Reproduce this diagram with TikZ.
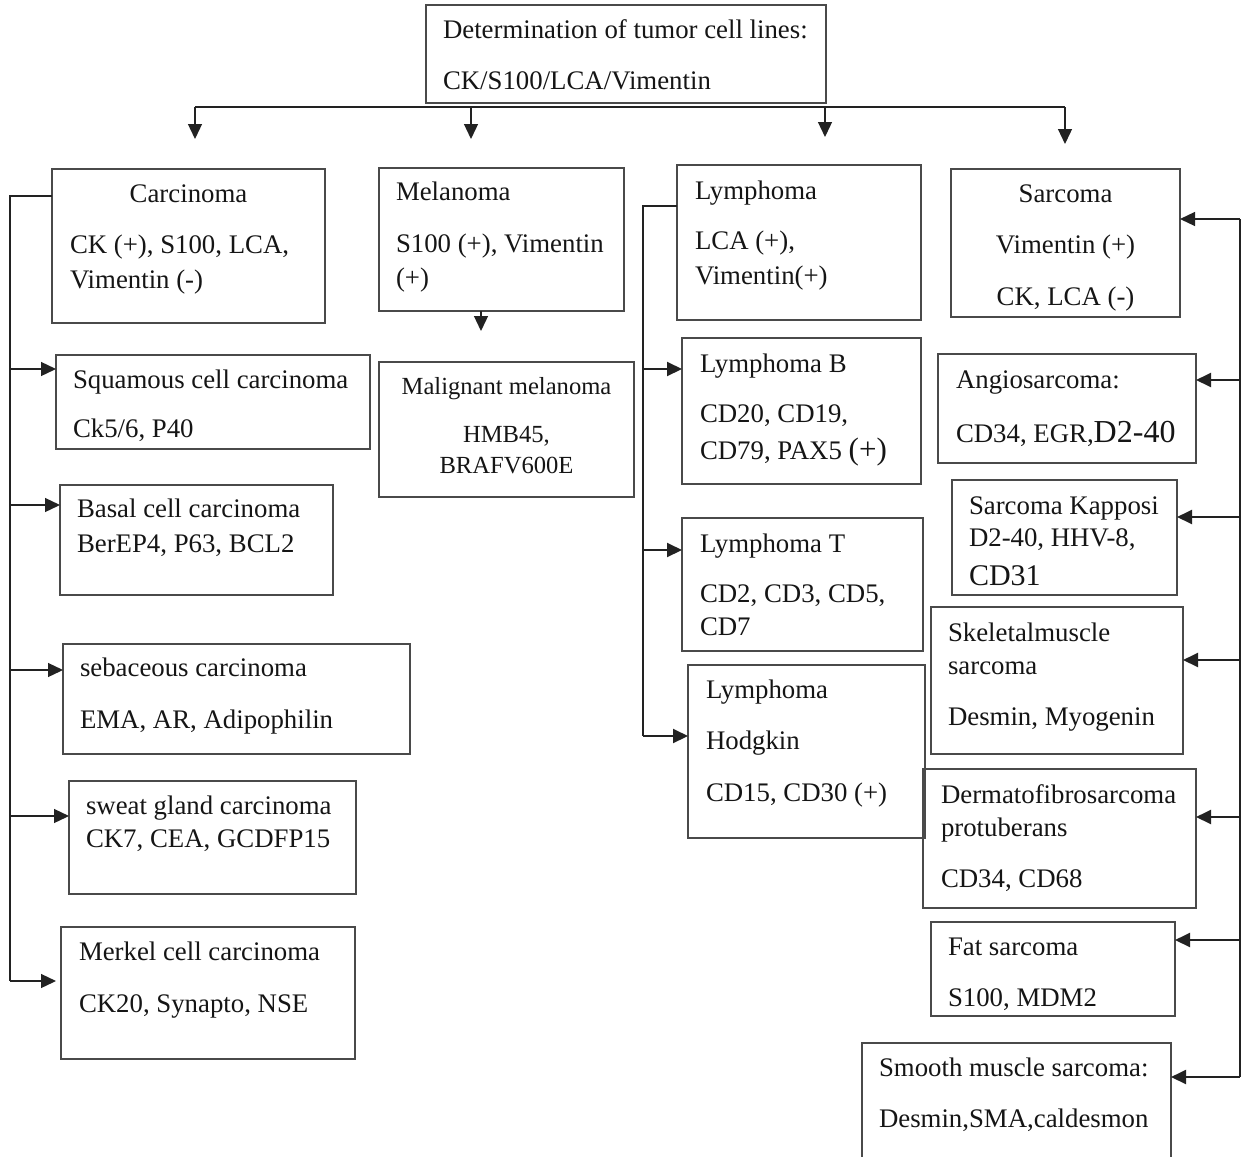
\documentclass[tikz,border=0pt]{standalone}
\usepackage{fontspec}
\setmainfont{Liberation Serif}
\usetikzlibrary{arrows.meta}
\definecolor{boxgray}{HTML}{4A4A4A}
\definecolor{linegray}{HTML}{222222}
\definecolor{textblack}{HTML}{151515}
\newcommand\mainfs{\fontsize{26.8}{32}\selectfont}
\newcommand\smallfs{\fontsize{24.6}{30}\selectfont}
\begin{document}
\begin{tikzpicture}[x=1pt,y=-1pt,
  box/.style={draw=boxgray, line width=1.3pt, inner sep=0pt, outer sep=0pt, anchor=north west},
  txt/.style={inner sep=0pt, outer sep=0pt, anchor=base west, font=\mainfs, text=textblack},
  ctxt/.style={txt, anchor=base},
  bus/.style={draw=linegray, line width=1.3pt},
  busb/.style={draw=linegray, line width=2pt},
  arr/.style={bus, -{Triangle[width=14pt,length=15pt]}},
  arrb/.style={busb, -{Triangle[width=14pt,length=15pt]}}]
\useasboundingbox (0,0) rectangle (1246,1156);
\fill[white] (0,0) rectangle (1246,1156);

% ---------- top ----------
\node[box, minimum width=400pt, minimum height=98pt] (top) at (426,5) {};
\node[txt] (top1) at (443,38) {Determination of tumor cell lines:};
\node[txt] (top2) at (443,89) {CK/S100/LCA/Vimentin};

\coordinate (h1) at (195,107);
\coordinate (h2) at (471,107);
\coordinate (h3) at (825,107);
\coordinate (h4) at (1065,107);
\coordinate (d1) at (195,139);
\coordinate (d2) at (471,139);
\coordinate (d3) at (825,137);
\coordinate (d4) at (1065,144);
\draw[bus] (h1) -- (h4);
\draw[arr] (h1) -- (d1);
\draw[arr] (h2) -- (d2);
\draw[arr] (h3) -- (d3);
\draw[arr] (h4) -- (d4);

% ---------- carcinoma column ----------
\node[box, minimum width=273pt, minimum height=154pt] (carc) at (52,169) {};
\node[ctxt] (carc1) at (188.5,202) {Carcinoma};
\node[txt] (carc2) at (70,253) {CK (+), S100, LCA,};
\node[txt] (carc3) at (70,288) {Vimentin (-)};

\node[box, minimum width=314pt, minimum height=94pt] (squam) at (56,355) {};
\node[txt] (squam1) at (73,388) {Squamous cell carcinoma};
\node[txt] (squam2) at (73,437) {Ck5/6, P40};

\node[box, minimum width=273pt, minimum height=110pt] (basal) at (60,485) {};
\node[txt] (basal1) at (77,517) {Basal cell carcinoma};
\node[txt] (basal2) at (77,552) {BerEP4, P63, BCL2};

\node[box, minimum width=347pt, minimum height=110pt] (seb) at (63,644) {};
\node[txt] (seb1) at (80,676) {sebaceous carcinoma};
\node[txt] (seb2) at (80,728) {EMA, AR, Adipophilin};

\node[box, minimum width=287pt, minimum height=113pt] (sweat) at (69,781) {};
\node[txt] (sweat1) at (86,814) {sweat gland carcinoma};
\node[txt] (sweat2) at (86,847) {CK7, CEA, GCDFP15};

\node[box, minimum width=294pt, minimum height=132pt] (merk) at (61,927) {};
\node[txt] (merk1) at (79,960) {Merkel cell carcinoma};
\node[txt] (merk2) at (79,1012) {CK20, Synapto, NSE};

\coordinate (L0) at (10,196);
\coordinate (L1) at (10,369);
\coordinate (L2) at (10,505);
\coordinate (L3) at (10,670);
\coordinate (L4) at (10,816);
\coordinate (L5) at (10,981);
\draw[bus] ([yshift=-27pt]carc.north west) -- (L0) -- (L5);
\draw[arr] (L1) -- (L1 -| squam.west);
\draw[arr] (L2) -- (L2 -| basal.west);
\draw[arr] (L3) -- (L3 -| seb.west);
\draw[arr] (L4) -- (L4 -| sweat.west);
\draw[arr] (L5) -- ([xshift=-5pt]L5 -| merk.west);

% ---------- melanoma ----------
\node[box, minimum width=245pt, minimum height=143pt] (mel) at (379,168) {};
\node[txt] (mel1) at (396,200) {Melanoma};
\node[txt] (mel2) at (396,252) {S100 (+), Vimentin};
\node[txt] (mel3) at (396,286) {(+)};

\node[box, minimum width=255pt, minimum height=135pt] (mal) at (379,362) {};
\node[ctxt, font=\smallfs] (mal1) at (506.5,394) {Malignant melanoma};
\node[ctxt, font=\smallfs] (mal2) at (506.5,442) {HMB45,};
\node[ctxt, font=\smallfs] (mal3) at (506.5,473) {BRAFV600E};

\coordinate (m2) at (481,331);
\draw[arr] ([xshift=-20.5pt]mel.south) -- (m2);

% ---------- lymphoma ----------
\node[box, minimum width=244pt, minimum height=155pt] (lym) at (677,165) {};
\node[txt] (lym1) at (695,199) {Lymphoma};
\node[txt] (lym2) at (695,249) {LCA (+),};
\node[txt] (lym3) at (695,284) {Vimentin(+)};

\node[box, minimum width=239pt, minimum height=146pt] (lymb) at (682,338) {};
\node[txt] (lymb1) at (700,372) {Lymphoma B};
\node[txt] (lymb2) at (700,422) {CD20, CD19,};
\node[txt] (lymb3) at (700,459) {CD79, PAX5 {\fontsize{31}{34}\selectfont(+)}};

\node[box, minimum width=241pt, minimum height=133pt] (lymt) at (682,518) {};
\node[txt] (lymt1) at (700,552) {Lymphoma T};
\node[txt] (lymt2) at (700,602) {CD2, CD3, CD5,};
\node[txt] (lymt3) at (700,635) {CD7};

\node[box, minimum width=237pt, minimum height=173pt] (hodg) at (688,665) {};
\node[txt] (hodg1) at (706,698) {Lymphoma};
\node[txt] (hodg2) at (706,749) {Hodgkin};
\node[txt] (hodg3) at (706,801) {CD15, CD30 (+)};

\coordinate (Y0) at (643,206);
\coordinate (Y1) at (643,369);
\coordinate (Y2) at (643,550);
\coordinate (Y3) at (643,736);
\draw[busb] ([yshift=-41pt]lym.north west) -- (Y0) -- (Y3);
\draw[arrb] (Y1) -- (Y1 -| lymb.west);
\draw[arrb] (Y2) -- (Y2 -| lymt.west);
\draw[arrb] (Y3) -- (Y3 -| hodg.west);

% ---------- sarcoma ----------
\node[box, minimum width=229pt, minimum height=148pt] (sarc) at (951,169) {};
\node[ctxt] (sarc1) at (1065.5,202) {Sarcoma};
\node[ctxt] (sarc2) at (1065.5,253) {Vimentin (+)};
\node[ctxt] (sarc3) at (1065.5,305) {CK, LCA (-)};

\node[box, minimum width=258pt, minimum height=109pt] (angio) at (938,354) {};
\node[txt] (angio1) at (956,388) {Angiosarcoma:};
\node[txt] (angio2) at (956,442) {CD34, EGR,{\fontsize{32}{34}\selectfont D2-40}};

\node[box, minimum width=225pt, minimum height=115pt] (kap) at (952,480) {};
\node[txt] (kap1) at (969,514) {Sarcoma Kapposi};
\node[txt] (kap2) at (969,546) {D2-40, HHV-8,};
\node[txt, font=\fontsize{30}{32}\selectfont] (kap3) at (969,585) {CD31};

\node[box, minimum width=252pt, minimum height=147pt] (skel) at (931,607) {};
\node[txt] (skel1) at (948,641) {Skeletalmuscle};
\node[txt] (skel2) at (948,674) {sarcoma};
\node[txt] (skel3) at (948,725) {Desmin, Myogenin};

\node[box, minimum width=273pt, minimum height=139pt] (derm) at (923,769) {};
\node[txt] (derm1) at (941,803) {Dermatofibrosarcoma};
\node[txt] (derm2) at (941,836) {protuberans};
\node[txt] (derm3) at (941,887) {CD34, CD68};

\node[box, minimum width=244pt, minimum height=94pt] (fat) at (931,922) {};
\node[txt] (fat1) at (948,955) {Fat sarcoma};
\node[txt] (fat2) at (948,1006) {S100, MDM2};

\node[box, minimum width=309pt, minimum height=120pt] (smooth) at (862,1043) {};
\node[txt] (smooth1) at (879,1076) {Smooth muscle sarcoma:};
\node[txt] (smooth2) at (879,1127) {Desmin,SMA,caldesmon};

\coordinate (R0) at (1240,219);
\coordinate (R1) at (1240,380);
\coordinate (R2) at (1240,517);
\coordinate (R3) at (1240,660);
\coordinate (R4) at (1240,817);
\coordinate (R5) at (1240,940);
\coordinate (R6) at (1240,1077);
\draw[busb] (R0) -- (R6);
\draw[arr] (R0) -- (R0 -| sarc.east);
\draw[arrb] (R1) -- (R1 -| angio.east);
\draw[arrb] (R2) -- (R2 -| kap.east);
\draw[arrb] (R3) -- (R3 -| skel.east);
\draw[arrb] (R4) -- (R4 -| derm.east);
\draw[arrb] (R5) -- (R5 -| fat.east);
\draw[arrb] (R6) -- (R6 -| smooth.east);
\end{tikzpicture}
\end{document}
